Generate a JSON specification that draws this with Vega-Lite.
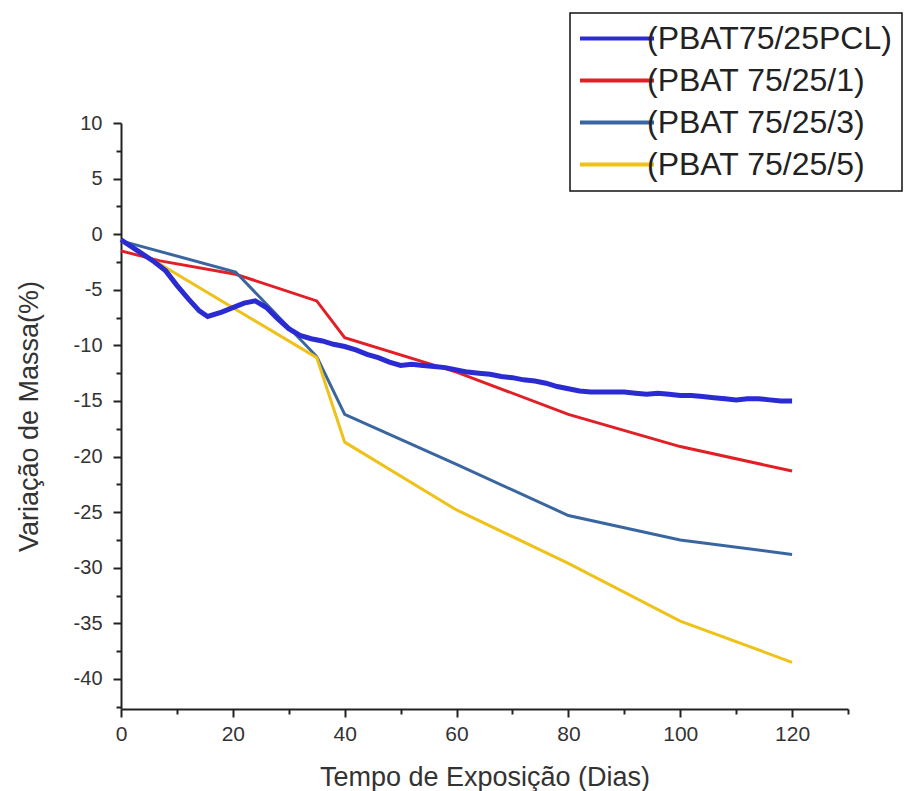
{
  "$schema": "https://vega.github.io/schema/vega-lite/v6.json",
  "width": 727,
  "height": 586,
  "autosize": {"type": "none"},
  "padding": {"left": 121, "top": 123, "right": 56, "bottom": 82},
  "background": "white",
  "config": {
    "view": {"stroke": null},
    "font": "Liberation Sans",
    "axis": {
      "domainColor": "#222",
      "domainWidth": 2,
      "tickColor": "#222",
      "tickWidth": 2,
      "grid": false,
      "labelFont": "Liberation Sans",
      "labelColor": "#333",
      "titleFont": "Liberation Sans",
      "titleColor": "#333",
      "titleFontWeight": "normal"
    }
  },
  "data": {
    "values": [
      {"serie": "(PBAT75/25PCL)", "dias": 0, "massa": -0.5},
      {"serie": "(PBAT75/25PCL)", "dias": 3, "massa": -1.5},
      {"serie": "(PBAT75/25PCL)", "dias": 6, "massa": -2.5},
      {"serie": "(PBAT75/25PCL)", "dias": 8, "massa": -3.3},
      {"serie": "(PBAT75/25PCL)", "dias": 10, "massa": -4.6},
      {"serie": "(PBAT75/25PCL)", "dias": 12, "massa": -5.8},
      {"serie": "(PBAT75/25PCL)", "dias": 14, "massa": -6.9},
      {"serie": "(PBAT75/25PCL)", "dias": 15.5, "massa": -7.4},
      {"serie": "(PBAT75/25PCL)", "dias": 18, "massa": -7.0},
      {"serie": "(PBAT75/25PCL)", "dias": 20, "massa": -6.6},
      {"serie": "(PBAT75/25PCL)", "dias": 22, "massa": -6.2},
      {"serie": "(PBAT75/25PCL)", "dias": 24, "massa": -6.0},
      {"serie": "(PBAT75/25PCL)", "dias": 26, "massa": -6.6},
      {"serie": "(PBAT75/25PCL)", "dias": 28, "massa": -7.6},
      {"serie": "(PBAT75/25PCL)", "dias": 30, "massa": -8.5},
      {"serie": "(PBAT75/25PCL)", "dias": 32, "massa": -9.1},
      {"serie": "(PBAT75/25PCL)", "dias": 34, "massa": -9.4},
      {"serie": "(PBAT75/25PCL)", "dias": 36, "massa": -9.6},
      {"serie": "(PBAT75/25PCL)", "dias": 38, "massa": -9.9},
      {"serie": "(PBAT75/25PCL)", "dias": 40, "massa": -10.1},
      {"serie": "(PBAT75/25PCL)", "dias": 42, "massa": -10.4},
      {"serie": "(PBAT75/25PCL)", "dias": 44, "massa": -10.8},
      {"serie": "(PBAT75/25PCL)", "dias": 46, "massa": -11.1},
      {"serie": "(PBAT75/25PCL)", "dias": 48, "massa": -11.5},
      {"serie": "(PBAT75/25PCL)", "dias": 50, "massa": -11.8},
      {"serie": "(PBAT75/25PCL)", "dias": 52, "massa": -11.7},
      {"serie": "(PBAT75/25PCL)", "dias": 54, "massa": -11.8},
      {"serie": "(PBAT75/25PCL)", "dias": 56, "massa": -11.9},
      {"serie": "(PBAT75/25PCL)", "dias": 58, "massa": -12.0},
      {"serie": "(PBAT75/25PCL)", "dias": 60, "massa": -12.2},
      {"serie": "(PBAT75/25PCL)", "dias": 62, "massa": -12.4},
      {"serie": "(PBAT75/25PCL)", "dias": 64, "massa": -12.5},
      {"serie": "(PBAT75/25PCL)", "dias": 66, "massa": -12.6},
      {"serie": "(PBAT75/25PCL)", "dias": 68, "massa": -12.8},
      {"serie": "(PBAT75/25PCL)", "dias": 70, "massa": -12.9},
      {"serie": "(PBAT75/25PCL)", "dias": 72, "massa": -13.1},
      {"serie": "(PBAT75/25PCL)", "dias": 74, "massa": -13.2},
      {"serie": "(PBAT75/25PCL)", "dias": 76, "massa": -13.4},
      {"serie": "(PBAT75/25PCL)", "dias": 78, "massa": -13.7},
      {"serie": "(PBAT75/25PCL)", "dias": 80, "massa": -13.9},
      {"serie": "(PBAT75/25PCL)", "dias": 82, "massa": -14.1},
      {"serie": "(PBAT75/25PCL)", "dias": 84, "massa": -14.2},
      {"serie": "(PBAT75/25PCL)", "dias": 86, "massa": -14.2},
      {"serie": "(PBAT75/25PCL)", "dias": 88, "massa": -14.2},
      {"serie": "(PBAT75/25PCL)", "dias": 90, "massa": -14.2},
      {"serie": "(PBAT75/25PCL)", "dias": 92, "massa": -14.3},
      {"serie": "(PBAT75/25PCL)", "dias": 94, "massa": -14.4},
      {"serie": "(PBAT75/25PCL)", "dias": 96, "massa": -14.3},
      {"serie": "(PBAT75/25PCL)", "dias": 98, "massa": -14.4},
      {"serie": "(PBAT75/25PCL)", "dias": 100, "massa": -14.5},
      {"serie": "(PBAT75/25PCL)", "dias": 102, "massa": -14.5},
      {"serie": "(PBAT75/25PCL)", "dias": 104, "massa": -14.6},
      {"serie": "(PBAT75/25PCL)", "dias": 106, "massa": -14.7},
      {"serie": "(PBAT75/25PCL)", "dias": 108, "massa": -14.8},
      {"serie": "(PBAT75/25PCL)", "dias": 110, "massa": -14.9},
      {"serie": "(PBAT75/25PCL)", "dias": 112, "massa": -14.8},
      {"serie": "(PBAT75/25PCL)", "dias": 114, "massa": -14.8},
      {"serie": "(PBAT75/25PCL)", "dias": 116, "massa": -14.9},
      {"serie": "(PBAT75/25PCL)", "dias": 118, "massa": -15.0},
      {"serie": "(PBAT75/25PCL)", "dias": 120, "massa": -15.0},

      {"serie": "(PBAT 75/25/1)", "dias": 0, "massa": -1.5},
      {"serie": "(PBAT 75/25/1)", "dias": 7, "massa": -2.4},
      {"serie": "(PBAT 75/25/1)", "dias": 20.5, "massa": -3.6},
      {"serie": "(PBAT 75/25/1)", "dias": 35, "massa": -6.0},
      {"serie": "(PBAT 75/25/1)", "dias": 40, "massa": -9.3},
      {"serie": "(PBAT 75/25/1)", "dias": 60, "massa": -12.4},
      {"serie": "(PBAT 75/25/1)", "dias": 80, "massa": -16.2},
      {"serie": "(PBAT 75/25/1)", "dias": 100, "massa": -19.1},
      {"serie": "(PBAT 75/25/1)", "dias": 120, "massa": -21.3},

      {"serie": "(PBAT 75/25/3)", "dias": 0, "massa": -0.6},
      {"serie": "(PBAT 75/25/3)", "dias": 20.5, "massa": -3.4},
      {"serie": "(PBAT 75/25/3)", "dias": 35, "massa": -11.0},
      {"serie": "(PBAT 75/25/3)", "dias": 40, "massa": -16.2},
      {"serie": "(PBAT 75/25/3)", "dias": 60, "massa": -20.7},
      {"serie": "(PBAT 75/25/3)", "dias": 80, "massa": -25.3},
      {"serie": "(PBAT 75/25/3)", "dias": 100, "massa": -27.5},
      {"serie": "(PBAT 75/25/3)", "dias": 120, "massa": -28.8},

      {"serie": "(PBAT 75/25/5)", "dias": 0, "massa": -0.6},
      {"serie": "(PBAT 75/25/5)", "dias": 35, "massa": -11.1},
      {"serie": "(PBAT 75/25/5)", "dias": 40, "massa": -18.7},
      {"serie": "(PBAT 75/25/5)", "dias": 60, "massa": -24.8},
      {"serie": "(PBAT 75/25/5)", "dias": 80, "massa": -29.6},
      {"serie": "(PBAT 75/25/5)", "dias": 100, "massa": -34.8},
      {"serie": "(PBAT 75/25/5)", "dias": 120, "massa": -38.5}
    ]
  },
  "encoding": {
    "x": {
      "field": "dias",
      "type": "quantitative",
      "scale": {"domain": [0, 130], "nice": false, "zero": false},
      "axis": {
        "title": "Tempo de Exposição (Dias)",
        "values": [0, 10, 20, 30, 40, 50, 60, 70, 80, 90, 100, 110, 120, 130],
        "labelExpr": "datum.value % 20 === 0 && datum.value <= 120 ? '' + datum.value : ''",
        "tickSize": {"condition": {"test": "datum.value % 20 !== 0 || datum.value > 120", "value": 5}, "value": 8},
        "labelFontSize": 21,
        "labelPadding": 6,
        "labelFlush": false,
        "titleFontSize": 27,
        "titlePadding": 20
      }
    },
    "y": {
      "field": "massa",
      "type": "quantitative",
      "scale": {"domain": [-42.7, 10], "nice": false, "zero": false},
      "axis": {
        "title": "Variação de Massa(%)",
        "values": [10, 7.5, 5, 2.5, 0, -2.5, -5, -7.5, -10, -12.5, -15, -17.5, -20, -22.5, -25, -27.5, -30, -32.5, -35, -37.5, -40, -42.5],
        "labelExpr": "datum.value % 5 === 0 ? '' + datum.value : ''",
        "tickSize": {"condition": {"test": "datum.value % 5 !== 0", "value": 5}, "value": 8},
        "labelFontSize": 20,
        "labelPadding": 11,
        "labelFlush": false,
        "titleFontSize": 27,
        "titlePadding": 30
      }
    },
    "color": {
      "field": "serie",
      "type": "nominal",
      "scale": {
        "domain": ["(PBAT75/25PCL)", "(PBAT 75/25/1)", "(PBAT 75/25/3)", "(PBAT 75/25/5)"],
        "range": ["#2b2bd2", "#e21f26", "#3a66a0", "#efc21a"]
      },
      "legend": {
        "title": null,
        "orient": "none",
        "legendX": 449,
        "legendY": -110,
        "symbolType": "stroke",
        "symbolSize": 6400,
        "symbolStrokeWidth": 4,
        "symbolOffset": -8,
        "labelOffset": -9,
        "labelFont": "Liberation Sans",
        "labelFontSize": 32,
        "labelColor": "#222",
        "labelLimit": 400,
        "clipHeight": 31,
        "rowPadding": 9,
        "padding": 10,
        "strokeColor": "#111",
        "fillColor": "white",
        "encode": {"legend": {"update": {"strokeWidth": {"value": 1.5}}}}
      }
    }
  },
  "layer": [
    {
      "transform": [{"filter": "datum.serie !== '(PBAT75/25PCL)'"}],
      "mark": {"type": "line", "strokeWidth": 3},
      "encoding": {}
    },
    {
      "transform": [{"filter": "datum.serie === '(PBAT75/25PCL)'"}],
      "mark": {"type": "line", "strokeWidth": 5},
      "encoding": {}
    }
  ]
}
